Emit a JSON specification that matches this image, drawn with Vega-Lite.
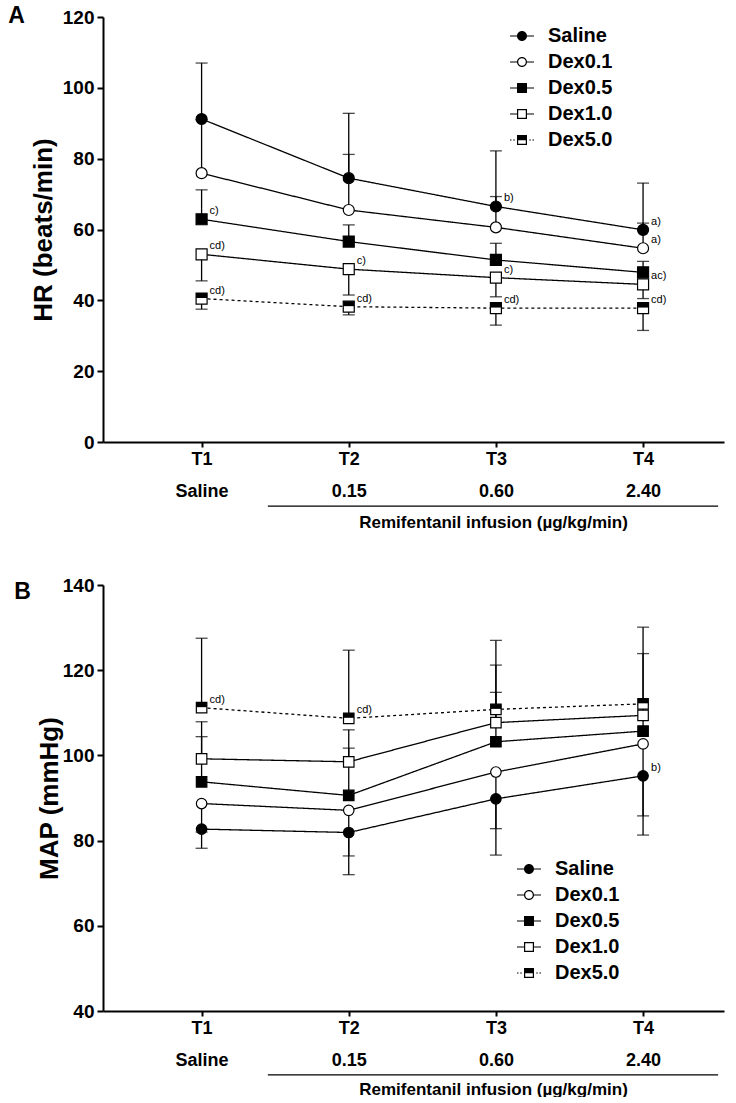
{
  "$schema": "https://vega.github.io/schema/vega-lite/v6.json",
  "background": "white",
  "padding": {"top": 5, "left": 8, "right": 5, "bottom": 0},
  "spacing": 46,
  "config": {
    "view": {"stroke": null},
    "font": "Liberation Sans",
    "axis": {"domainColor": "black", "domainWidth": 2, "tickColor": "black", "tickWidth": 2, "labelColor": "black", "titleColor": "black", "labelFont": "Liberation Sans", "titleFont": "Liberation Sans", "labelFontWeight": "bold", "titleFontWeight": "bold", "grid": false},
    "legend": {"orient": "none", "title": null, "labelFontSize": 20, "labelFontWeight": "bold", "labelFont": "Liberation Sans", "labelColor": "black", "symbolSize": 100, "symbolStrokeWidth": 0, "symbolFillColor": "black", "rowPadding": 6, "labelOffset": 16, "padding": 0},
    "title": {"font": "Liberation Sans", "fontWeight": "bold", "fontSize": 23, "color": "black", "anchor": "start", "frame": "bounds", "offset": -20, "dx": -22}
  },
  "resolve": {"scale": {"shape": "independent", "fill": "independent", "strokeDash": "independent"}, "legend": {"shape": "independent"}},
  "datasets": {
    "hr": [
      {"t": 1, "group": "Saline", "value": 91.2, "err": 107.0, "label": ""},
      {"t": 2, "group": "Saline", "value": 74.5, "err": 92.8, "label": ""},
      {"t": 3, "group": "Saline", "value": 66.5, "err": 82.2, "label": "b)"},
      {"t": 4, "group": "Saline", "value": 59.9, "err": 73.1, "label": "a)"},
      {"t": 1, "group": "Dex0.1", "value": 75.9, "err": 91.0, "label": ""},
      {"t": 2, "group": "Dex0.1", "value": 65.5, "err": 81.2, "label": ""},
      {"t": 3, "group": "Dex0.1", "value": 60.6, "err": 69.3, "label": ""},
      {"t": 4, "group": "Dex0.1", "value": 54.7, "err": 61.8, "label": "a)"},
      {"t": 1, "group": "Dex0.5", "value": 62.9, "err": 71.2, "label": "c)"},
      {"t": 2, "group": "Dex0.5", "value": 56.6, "err": 61.3, "label": ""},
      {"t": 3, "group": "Dex0.5", "value": 51.4, "err": 56.1, "label": ""},
      {"t": 4, "group": "Dex0.5", "value": 47.9, "err": 51.0, "label": ""},
      {"t": 1, "group": "Dex1.0", "value": 53.0, "err": 45.5, "label": "cd)"},
      {"t": 2, "group": "Dex1.0", "value": 48.8, "err": 41.5, "label": "c)"},
      {"t": 3, "group": "Dex1.0", "value": 46.4, "err": 41.0, "label": "c)"},
      {"t": 4, "group": "Dex1.0", "value": 44.5, "err": 40.5, "label": "ac)"},
      {"t": 1, "group": "Dex5.0", "value": 40.5, "err": 37.5, "label": "cd)"},
      {"t": 2, "group": "Dex5.0", "value": 38.2, "err": 35.9, "label": "cd)"},
      {"t": 3, "group": "Dex5.0", "value": 37.8, "err": 33.0, "label": "cd)"},
      {"t": 4, "group": "Dex5.0", "value": 37.8, "err": 31.5, "label": "cd)"}
    ],
    "map": [
      {"t": 1, "group": "Saline", "value": 82.7, "err": 78.2, "label": ""},
      {"t": 2, "group": "Saline", "value": 81.9, "err": 72.0, "label": ""},
      {"t": 3, "group": "Saline", "value": 89.8, "err": 76.6, "label": ""},
      {"t": 4, "group": "Saline", "value": 95.2, "err": 81.3, "label": "b)"},
      {"t": 1, "group": "Dex0.1", "value": 88.7, "err": 82.0, "label": ""},
      {"t": 2, "group": "Dex0.1", "value": 87.1, "err": 76.4, "label": ""},
      {"t": 3, "group": "Dex0.1", "value": 96.1, "err": 82.8, "label": ""},
      {"t": 4, "group": "Dex0.1", "value": 102.7, "err": 85.8, "label": ""},
      {"t": 1, "group": "Dex0.5", "value": 93.8, "err": 104.4, "label": ""},
      {"t": 2, "group": "Dex0.5", "value": 90.6, "err": 101.7, "label": ""},
      {"t": 3, "group": "Dex0.5", "value": 103.2, "err": 114.8, "label": ""},
      {"t": 4, "group": "Dex0.5", "value": 105.7, "err": 112.0, "label": ""},
      {"t": 1, "group": "Dex1.0", "value": 99.2, "err": 107.9, "label": ""},
      {"t": 2, "group": "Dex1.0", "value": 98.5, "err": 106.0, "label": ""},
      {"t": 3, "group": "Dex1.0", "value": 107.7, "err": 121.2, "label": ""},
      {"t": 4, "group": "Dex1.0", "value": 109.4, "err": 123.9, "label": ""},
      {"t": 1, "group": "Dex5.0", "value": 111.2, "err": 127.5, "label": "cd)"},
      {"t": 2, "group": "Dex5.0", "value": 108.7, "err": 124.7, "label": "cd)"},
      {"t": 3, "group": "Dex5.0", "value": 110.8, "err": 127.0, "label": ""},
      {"t": 4, "group": "Dex5.0", "value": 112.1, "err": 130.1, "label": ""}
    ],
    "underlineA": [{"from": 1.45, "to": 4.51, "level": -18.1}],
    "underlineB": [{"from": 1.45, "to": 4.51, "level": 25.0}]
  },
  "vconcat": [
    {
      "data": {"name": "hr"},
      "title": {"text": "A"},
      "width": 621,
      "height": 425,
      "resolve": {"scale": {"shape": "independent", "fill": "independent"}},
      "encoding": {
        "x": {"field": "t", "type": "quantitative", "scale": {"domain": [0.33, 4.55], "nice": false, "zero": false},
          "axis": {"values": [1, 2, 3, 4], "labelExpr": "datum.value == 1 ? ['T1','Saline'] : datum.value == 2 ? ['T2','0.15'] : datum.value == 3 ? ['T3','0.60'] : ['T4','2.40']",
            "labelFontSize": 18, "labelLineHeight": 32, "labelPadding": 3, "tickSize": 5, "labelFlush": false, "labelOverlap": false, "labelBound": false,
            "title": "Remifentanil infusion (µg/kg/min)", "titleFontSize": 17, "titleX": 390, "titleY": 80, "titleAlign": "center", "titleBaseline": "middle", "titleAnchor": null}},
        "y": {"field": "value", "type": "quantitative", "scale": {"domain": [0, 120], "nice": false},
          "axis": {"values": [0, 20, 40, 60, 80, 100, 120], "labelFontSize": 19, "tickSize": 6, "labelPadding": 3, "title": "HR (beats/min)", "titleFontSize": 26, "titlePadding": 6}}
      },
      "layer": [
        {"mark": {"type": "rule", "strokeWidth": 1.3, "color": "black"}, "encoding": {"y2": {"field": "err"}}},
        {"mark": {"type": "tick", "orient": "horizontal", "size": 12, "thickness": 1.3, "color": "black"}, "encoding": {"y": {"field": "err", "type": "quantitative"}}},
        {"mark": {"type": "line", "strokeWidth": 1.3, "color": "black"},
          "encoding": {"strokeDash": {"field": "group", "type": "nominal", "scale": {"domain": ["Saline", "Dex0.1", "Dex0.5", "Dex1.0", "Dex5.0"], "range": [[1, 0], [1, 0], [1, 0], [1, 0], [3, 3]]}, "legend": null}}},
        {"mark": {"type": "point", "filled": false, "size": 121, "stroke": "black", "strokeWidth": 1.2, "opacity": 1},
          "encoding": {
            "shape": {"field": "group", "type": "nominal", "scale": {"domain": ["Saline", "Dex0.1", "Dex0.5", "Dex1.0", "Dex5.0"], "range": ["circle", "circle", "square", "square", "square"]}, "legend": null},
            "fill": {"field": "group", "type": "nominal", "scale": {"domain": ["Saline", "Dex0.1", "Dex0.5", "Dex1.0", "Dex5.0"], "range": ["black", "white", "black", "white", "white"]}, "legend": null}
          }},
        {"transform": [{"filter": "datum.group === 'Dex5.0'"}],
          "mark": {"type": "point", "shape": "M-1,-1H1V-0.1H-1Z", "size": 121, "filled": true, "color": "black", "opacity": 1, "strokeWidth": 0}},
        {"transform": [{"filter": "datum.label !== ''"}],
          "mark": {"type": "text", "align": "left", "baseline": "middle", "dx": 8, "dy": -8, "fontSize": 11, "font": "Liberation Sans", "color": "black"},
          "encoding": {"text": {"field": "label"}}},
        {"transform": [{"filter": "false"}],
          "mark": {"type": "point", "filled": true, "size": 100, "color": "black", "strokeWidth": 0, "opacity": 1},
          "encoding": {
            "shape": {"field": "group", "type": "nominal", "scale": {"domain": ["Saline", "Dex0.1", "Dex0.5", "Dex1.0", "Dex5.0"], "range": [
              "M-2.4,-0.12H-1V0.12H-2.4ZM1,-0.12H2.4V0.12H1ZM-1,0A1,1 0 1,1 1,0A1,1 0 1,1 -1,0Z",
              "M-2.4,-0.12H-1V0.12H-2.4ZM1,-0.12H2.4V0.12H1ZM-1,0A1,1 0 1,1 1,0A1,1 0 1,1 -1,0ZM-0.76,0A0.76,0.76 0 1,0 0.76,0A0.76,0.76 0 1,0 -0.76,0Z",
              "M-2.4,-0.12H-1V0.12H-2.4ZM1,-0.12H2.4V0.12H1ZM-1,-1H1V1H-1Z",
              "M-2.4,-0.12H-1V0.12H-2.4ZM1,-0.12H2.4V0.12H1ZM-1,-1H1V1H-1ZM-0.76,-0.76V0.76H0.76V-0.76Z",
              "M-2.4,-0.12H-2.1V0.12H-2.4ZM-1.75,-0.12H-1.45V0.12H-1.75ZM1.45,-0.12H1.75V0.12H1.45ZM2.1,-0.12H2.4V0.12H2.1ZM-1,-1H1V1H-1ZM-0.76,0.05V0.76H0.76V0.05Z"]},
              "legend": {"orient": "none", "legendX": 409, "legendY": 9}}
          }},
        {"data": {"name": "underlineA"},
          "mark": {"type": "rule", "strokeWidth": 1.3, "color": "black", "clip": false},
          "encoding": {"x": {"field": "from", "type": "quantitative"}, "x2": {"field": "to"}, "y": {"field": "level", "type": "quantitative"}}}
      ]
    },
    {
      "data": {"name": "map"},
      "title": {"text": "B", "offset": -28},
      "width": 621,
      "height": 426,
      "resolve": {"scale": {"shape": "independent", "fill": "independent"}},
      "encoding": {
        "x": {"field": "t", "type": "quantitative", "scale": {"domain": [0.33, 4.55], "nice": false, "zero": false},
          "axis": {"values": [1, 2, 3, 4], "labelExpr": "datum.value == 1 ? ['T1','Saline'] : datum.value == 2 ? ['T2','0.15'] : datum.value == 3 ? ['T3','0.60'] : ['T4','2.40']",
            "labelFontSize": 18, "labelLineHeight": 32, "labelPadding": 3, "tickSize": 5, "labelFlush": false, "labelOverlap": false, "labelBound": false,
            "title": "Remifentanil infusion (µg/kg/min)", "titleFontSize": 17, "titleX": 390, "titleY": 78, "titleAlign": "center", "titleBaseline": "middle", "titleAnchor": null}},
        "y": {"field": "value", "type": "quantitative", "scale": {"domain": [40, 140], "nice": false, "zero": false},
          "axis": {"values": [40, 60, 80, 100, 120, 140], "labelFontSize": 19, "tickSize": 6, "labelPadding": 3, "title": "MAP (mmHg)", "titleFontSize": 26, "titlePadding": 0}}
      },
      "layer": [
        {"mark": {"type": "rule", "strokeWidth": 1.3, "color": "black"}, "encoding": {"y2": {"field": "err"}}},
        {"mark": {"type": "tick", "orient": "horizontal", "size": 12, "thickness": 1.3, "color": "black"}, "encoding": {"y": {"field": "err", "type": "quantitative"}}},
        {"mark": {"type": "line", "strokeWidth": 1.3, "color": "black"},
          "encoding": {"strokeDash": {"field": "group", "type": "nominal", "scale": {"domain": ["Saline", "Dex0.1", "Dex0.5", "Dex1.0", "Dex5.0"], "range": [[1, 0], [1, 0], [1, 0], [1, 0], [3, 3]]}, "legend": null}}},
        {"mark": {"type": "point", "filled": false, "size": 110, "stroke": "black", "strokeWidth": 1.2, "opacity": 1},
          "encoding": {
            "shape": {"field": "group", "type": "nominal", "scale": {"domain": ["Saline", "Dex0.1", "Dex0.5", "Dex1.0", "Dex5.0"], "range": ["circle", "circle", "square", "square", "square"]}, "legend": null},
            "fill": {"field": "group", "type": "nominal", "scale": {"domain": ["Saline", "Dex0.1", "Dex0.5", "Dex1.0", "Dex5.0"], "range": ["black", "white", "black", "white", "white"]}, "legend": null}
          }},
        {"transform": [{"filter": "datum.group === 'Dex5.0'"}],
          "mark": {"type": "point", "shape": "M-1,-1H1V-0.1H-1Z", "size": 110, "filled": true, "color": "black", "opacity": 1, "strokeWidth": 0}},
        {"transform": [{"filter": "datum.label !== ''"}],
          "mark": {"type": "text", "align": "left", "baseline": "middle", "dx": 8, "dy": -8, "fontSize": 11, "font": "Liberation Sans", "color": "black"},
          "encoding": {"text": {"field": "label"}}},
        {"transform": [{"filter": "false"}],
          "mark": {"type": "point", "filled": true, "size": 100, "color": "black", "strokeWidth": 0, "opacity": 1},
          "encoding": {
            "shape": {"field": "group", "type": "nominal", "scale": {"domain": ["Saline", "Dex0.1", "Dex0.5", "Dex1.0", "Dex5.0"], "range": [
              "M-2.4,-0.12H-1V0.12H-2.4ZM1,-0.12H2.4V0.12H1ZM-1,0A1,1 0 1,1 1,0A1,1 0 1,1 -1,0Z",
              "M-2.4,-0.12H-1V0.12H-2.4ZM1,-0.12H2.4V0.12H1ZM-1,0A1,1 0 1,1 1,0A1,1 0 1,1 -1,0ZM-0.76,0A0.76,0.76 0 1,0 0.76,0A0.76,0.76 0 1,0 -0.76,0Z",
              "M-2.4,-0.12H-1V0.12H-2.4ZM1,-0.12H2.4V0.12H1ZM-1,-1H1V1H-1Z",
              "M-2.4,-0.12H-1V0.12H-2.4ZM1,-0.12H2.4V0.12H1ZM-1,-1H1V1H-1ZM-0.76,-0.76V0.76H0.76V-0.76Z",
              "M-2.4,-0.12H-2.1V0.12H-2.4ZM-1.75,-0.12H-1.45V0.12H-1.75ZM1.45,-0.12H1.75V0.12H1.45ZM2.1,-0.12H2.4V0.12H2.1ZM-1,-1H1V1H-1ZM-0.76,0.05V0.76H0.76V0.05Z"]},
              "legend": {"orient": "none", "legendX": 416, "legendY": 274}}
          }},
        {"data": {"name": "underlineB"},
          "mark": {"type": "rule", "strokeWidth": 1.3, "color": "black", "clip": false},
          "encoding": {"x": {"field": "from", "type": "quantitative"}, "x2": {"field": "to"}, "y": {"field": "level", "type": "quantitative"}}}
      ]
    }
  ]
}
